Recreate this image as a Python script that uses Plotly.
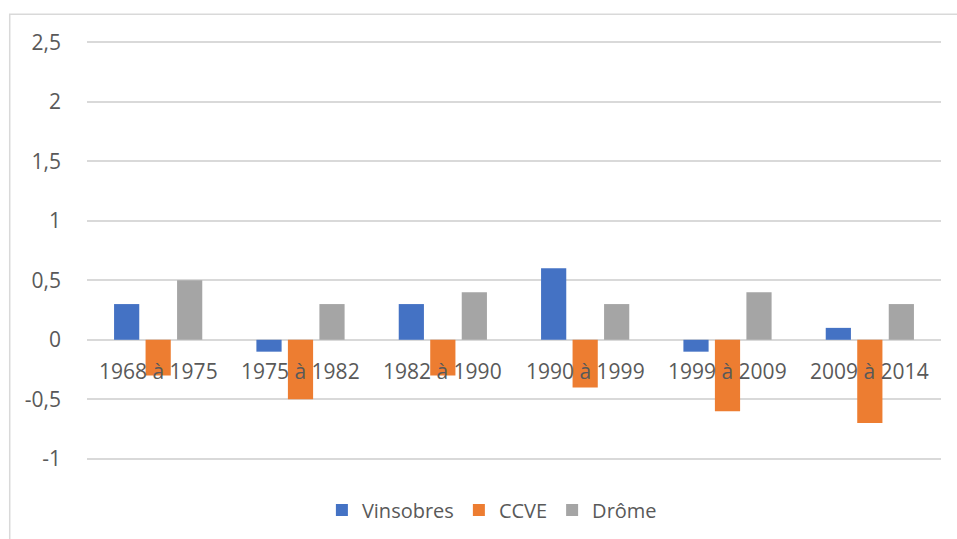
import plotly.graph_objects as go

periods = ["1968 à 1975", "1975 à 1982", "1982 à 1990", "1990 à 1999", "1999 à 2009", "2009 à 2014"]
vinsobres = [0.3, -0.1, 0.3, 0.6, -0.1, 0.1]
ccve = [-0.3, -0.5, -0.3, -0.4, -0.6, -0.7]
drome = [0.5, 0.3, 0.4, 0.3, 0.4, 0.3]

y_ticks = [-1, -0.5, 0, 0.5, 1, 1.5, 2, 2.5]
y_tick_text = ["-1", "-0,5", "0", "0,5", "1", "1,5", "2", "2,5"]

text_color = "#595959"
grid_color = "#d9d9d9"
font_family = "Open Sans, Liberation Sans, sans-serif"

fig = go.Figure()
for name, vals, color in [
    ("Vinsobres", vinsobres, "#4472C4"),
    ("CCVE", ccve, "#ED7D31"),
    ("Drôme", drome, "#A5A5A5"),
]:
    fig.add_trace(go.Bar(x=periods, y=vals, name=name, marker_color=color,
                         marker_line_width=0))

# category labels sit just under the zero line, over the bars
for p in periods:
    fig.add_annotation(x=p, y=0, xref="x", yref="y", text=p, showarrow=False,
                       yanchor="top", yshift=-15,
                       font=dict(size=21, color=text_color, family=font_family))

# chart frame
fig.add_shape(type="rect", xref="paper", yref="paper",
              x0=-0.0905, x1=1.2, y0=-0.5, y1=1.064,
              line=dict(color=grid_color, width=1.5), layer="below")

fig.update_layout(
    width=957, height=539,
    margin=dict(l=87, r=16, t=41, b=79),
    paper_bgcolor="white", plot_bgcolor="white",
    barmode="group", bargap=0.336, bargroupgap=0.2,
    font=dict(family=font_family, size=21, color=text_color),
    showlegend=True,
    legend=dict(orientation="h", xref="container", yref="container",
                x=0.514, xanchor="center", y=0.054, yanchor="middle",
                font=dict(size=20, color=text_color), itemwidth=30,
                tracegroupgap=0),
    xaxis=dict(showticklabels=False, showgrid=False, zeroline=False, showline=False,
               ticks=""),
    yaxis=dict(range=[-1.01, 2.51], tickvals=y_ticks, ticktext=y_tick_text,
               showgrid=True, gridcolor=grid_color, gridwidth=1.5,
               zeroline=True, zerolinecolor=grid_color, zerolinewidth=1.5,
               showline=False, ticks="", ticklabelstandoff=25,
               tickfont=dict(size=21, color=text_color)),
)

fig.write_html("out.html")
